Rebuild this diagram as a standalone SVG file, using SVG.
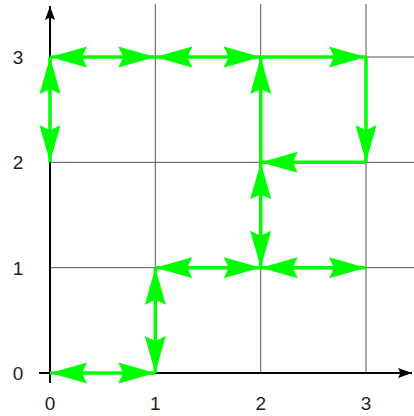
<svg xmlns="http://www.w3.org/2000/svg" width="414" height="416" viewBox="0 0 414 416">
<defs>
<style>
.grid{stroke:#555;stroke-width:1;fill:none}
.axis{stroke:#000;stroke-width:2;fill:none}
.edge{stroke:#00ff00;stroke-width:3.5;fill:none}
.lbl{font-family:"Liberation Sans",Arial,sans-serif;font-size:19px;fill:#222}
</style>
<marker id="g" markerUnits="userSpaceOnUse" markerWidth="38" markerHeight="22" refX="37" refY="11" orient="auto-start-reverse" viewBox="0 0 38 22">
<path d="M37,11 L0,0.5 L5,11 L0,21.5 Z" fill="#00ff00"/>
</marker>
<marker id="k" markerUnits="userSpaceOnUse" markerWidth="15" markerHeight="11" refX="14" refY="5.5" orient="auto" viewBox="0 0 15 11">
<path d="M14,5.5 L0,0.5 L2.5,5.5 L0,10.5 Z" fill="#000"/>
</marker>
</defs>
<g id="grid">
<path class="grid" d="M155.3,4 V373 M260.7,4 V373 M366,4 V373 M50,267.7 H414 M50,162.3 H414 M50,57 H414"/>
</g>
<g id="axes">
<path class="axis" d="M50,383 V6" marker-end="url(#k)"/>
<path class="axis" d="M39,373 H412" marker-end="url(#k)"/>
</g>
<g id="labels">
<text class="lbl" x="50" y="410" text-anchor="middle">0</text>
<text class="lbl" x="155.3" y="410" text-anchor="middle">1</text>
<text class="lbl" x="260.7" y="410" text-anchor="middle">2</text>
<text class="lbl" x="366" y="410" text-anchor="middle">3</text>
<text class="lbl" x="18" y="380" text-anchor="middle">0</text>
<text class="lbl" x="18" y="274.5" text-anchor="middle">1</text>
<text class="lbl" x="18" y="169" text-anchor="middle">2</text>
<text class="lbl" x="18" y="63.5" text-anchor="middle">3</text>
</g>
<g id="connectors">
<path class="edge" d="M50,373 H155.3" marker-start="url(#g)" marker-end="url(#g)"/>
<path class="edge" d="M155.3,373 V267.7" marker-start="url(#g)" marker-end="url(#g)"/>
<path class="edge" d="M155.3,267.7 H260.7" marker-start="url(#g)" marker-end="url(#g)"/>
<path class="edge" d="M260.7,267.7 H366" marker-start="url(#g)" marker-end="url(#g)"/>
<path class="edge" d="M260.7,267.7 V162.3" marker-start="url(#g)" marker-end="url(#g)"/>
<path class="edge" d="M155.3,57 H260.7" marker-start="url(#g)" marker-end="url(#g)"/>
<path class="edge" d="M50,57 H155.3" marker-start="url(#g)" marker-end="url(#g)"/>
<path class="edge" d="M50,57 V162.3" marker-start="url(#g)" marker-end="url(#g)"/>
<path class="edge" d="M366,162.3 H260.7" marker-end="url(#g)"/>
<path class="edge" d="M366,57 V162.3" marker-end="url(#g)"/>
<path class="edge" d="M260.7,162.3 V57" marker-end="url(#g)"/>
<path class="edge" d="M260.7,57 H366" marker-end="url(#g)"/>
</g>
</svg>
